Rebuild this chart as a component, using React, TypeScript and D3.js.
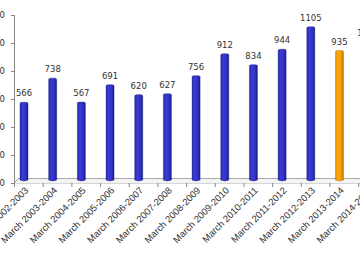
import React from "react";
import * as d3 from "d3";

const categories = [
  "March 2002-2003", "March 2003-2004", "March 2004-2005", "March 2005-2006",
  "March 2006-2007", "March 2007-2008", "March 2008-2009", "March 2009-2010",
  "March 2010-2011", "March 2011-2012", "March 2012-2013", "March 2013-2014",
  "March 2014-2015",
];
const values = [566, 738, 567, 691, 620, 627, 756, 912, 834, 944, 1105, 935, 1000];
const highlight = [false, false, false, false, false, false, false, false, false, false, false, true, false];
const yTicks = [0, 200, 400, 600, 800, 1000, 1200];

const W = 360, H = 260;

export default function App() {
  const x0 = 14;
  const step = 28.68;
  const x = d3.scaleBand<string>().domain(categories).range([x0, x0 + step * categories.length]).padding(0);
  const y = d3.scaleLinear().domain([0, 1200]).range([183, 15]);
  const bw = 8;
  const base = 180;
  return (
    <svg width={W} height={H} style={{ position: "absolute", left: 0, top: 0, background: "#fff" }}>
      <defs>
        <linearGradient id="gb" x1="0" x2="1" y1="0" y2="0">
          <stop offset="0" stopColor="#2828a8" />
          <stop offset="0.3" stopColor="#3a3ad8" />
          <stop offset="0.7" stopColor="#3232c8" />
          <stop offset="1" stopColor="#1c1c80" />
        </linearGradient>
        <linearGradient id="go" x1="0" x2="1" y1="0" y2="0">
          <stop offset="0" stopColor="#e08a00" />
          <stop offset="0.3" stopColor="#ffa80a" />
          <stop offset="0.7" stopColor="#f59c00" />
          <stop offset="1" stopColor="#b86e00" />
        </linearGradient>
      </defs>
      {/* floor */}
      <path d={`M${x0},183 L${x0 + 5},178 L${W},178 L${W},183 Z`} fill="#f4f4f4" stroke="none" />
      <line x1={x0} y1={183} x2={x0 + 5} y2={178} stroke="#999" strokeWidth={1} />
      <line x1={x0 + 5} y1={178.5} x2={W} y2={178.5} stroke="#aaa" strokeWidth={1} />
      <line x1={x0} y1={183.5} x2={W} y2={183.5} stroke="#bbb" strokeWidth={0.6} />
      {/* y axis */}
      <line x1={x0 + 0.5} y1={15} x2={x0 + 0.5} y2={183} stroke="#888" strokeWidth={1} />
      {yTicks.map((t) => (
        <g key={t}>
          <line x1={x0 - 3} x2={x0} y1={y(t) + 0.5} y2={y(t) + 0.5} stroke="#888" />
          <text x={x0 - 9} y={y(t) + 3} textAnchor="end" fontFamily="DejaVu Sans" fontSize={8.5} fill="#333">{t}</text>
        </g>
      ))}
      {/* x ticks */}
      {categories.map((c) => (
        <line key={"t" + c} x1={(x(c) as number) + 0.5} x2={(x(c) as number) + 0.5} y1={183} y2={187} stroke="#888" />
      ))}
      {categories.map((c, i) => {
        const cx = (x(c) as number) + 10;
        const top = y(values[i]) - 1.5;
        const fill = highlight[i] ? "url(#go)" : "url(#gb)";
        const edge = highlight[i] ? "#b06800" : "#1a1a78";
        return (
          <g key={c}>
            <path
              d={`M${cx - bw / 2},${top + 1.5} Q${cx - bw / 2},${top} ${cx - bw / 2 + 1.5},${top} L${cx + bw / 2 - 1.5},${top} Q${cx + bw / 2},${top} ${cx + bw / 2},${top + 1.5} L${cx + bw / 2},${base} Q${cx},${base + 2} ${cx - bw / 2},${base} Z`}
              fill={fill}
              stroke={edge}
              strokeWidth={0.4}
            />
            <text x={cx} y={top - 6} textAnchor="middle" fontFamily="DejaVu Sans" fontSize={8.5} fill="#333">{values[i]}</text>
            <text
              transform={`translate(${cx + 5},${191}) rotate(-45)`}
              textAnchor="end"
              fontFamily="Liberation Sans"
              fontSize={9.5}
              fill="#333"
            >{c}</text>
          </g>
        );
      })}
    </svg>
  );
}
